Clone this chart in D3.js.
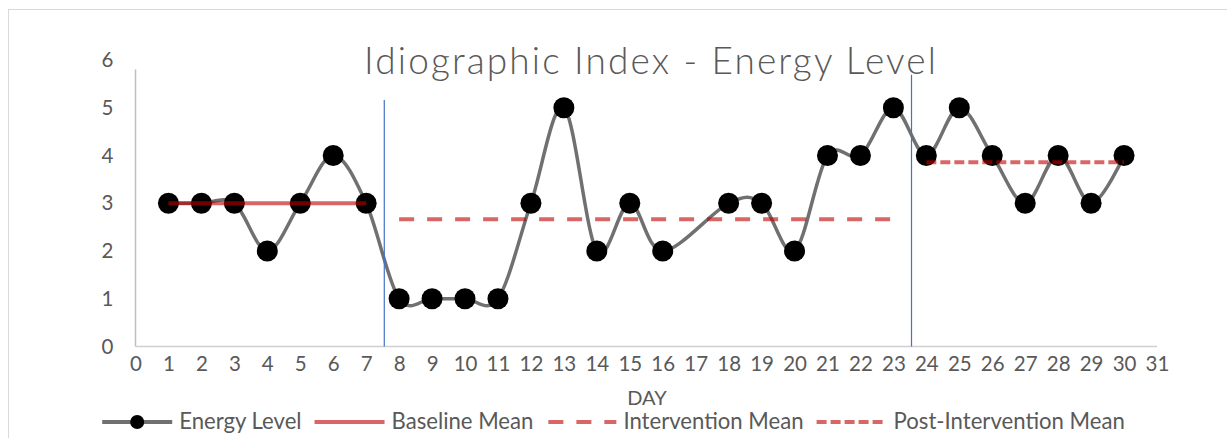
<!DOCTYPE html>
<html><head><meta charset="utf-8">
<script src="https://cdn.jsdelivr.net/npm/d3@7"></script>
<style>
body{margin:0;background:#fff}
svg{display:block}
text{font-family:Lato,"Open Sans",sans-serif;fill:#595959}
</style>
</head><body>
<svg id="c" width="1227" height="438"></svg>
<script>
// ---- data ----
const days   = [1,2,3,4,5,6,7,8,9,10,11,12,13,14,15,16,18,19,20,21,22,23,24,25,26,27,28,29,30];
const energy = [3,3,3,2,3,4,3,1,1,1,1,3,5,2,3,2,3,3,2,4,4,5,4,5,4,3,4,3,4];
const baselineDays = [1,7];   const baselineMean = [3,3];
const interventionDays = [8,23]; const interventionMean = [2.667,2.667];
const postDays = [24,30];     const postMean = [3.857,3.857];
const phaseDays = [7.55,23.55]; const phaseTops = [5.16,5.69];
const xTicks = d3.range(0,32);
const yTicks = [0,1,2,3,4,5,6];
const legendLabels = ["Energy Level","Baseline Mean","Intervention Mean","Post-Intervention Mean"];
const chartTitle = "Idiographic Index - Energy Level";
const xTitle = "DAY";

// ---- setup ----
const svg = d3.select("#c");
const x = d3.scaleLinear().domain([0,31]).range([135.5,1157]);
const y = d3.scaleLinear().domain([0,6]).range([346.5,60]);
const meanColor = "rgba(192,0,0,0.6)";
const lineColor = "#707070";

// outer border
svg.append("rect").attr("x",8.5).attr("y",9.5).attr("width",1300).attr("height",600)
  .attr("fill","none").attr("stroke","#d9d9d9").attr("stroke-width",1);

// axes lines
svg.append("line").attr("x1",x(0)).attr("x2",x(0)).attr("y1",y(0)).attr("y2",y(5.8))
  .attr("stroke","#bfbfbf").attr("stroke-width",1.5);
svg.append("line").attr("x1",x(0)).attr("x2",x(31)).attr("y1",y(0)).attr("y2",y(0))
  .attr("stroke","#d0d0d0").attr("stroke-width",1.5);

// y axis labels
const yAx = svg.append("g").attr("transform",`translate(${x(0)-22},0)`)
  .call(d3.axisLeft(y).tickValues(yTicks).tickSize(0).tickPadding(0).tickFormat(d3.format("d")));
yAx.select(".domain").remove();
yAx.selectAll("text").style("font-size","20.5px").attr("fill","#595959").style("font-family","Lato,'Open Sans',sans-serif");

// x axis labels
const xAx = svg.append("g").attr("transform",`translate(0,${y(0)})`)
  .call(d3.axisBottom(x).tickValues(xTicks).tickSize(0).tickPadding(24).tickFormat(d3.format("d")));
xAx.select(".domain").remove();
xAx.selectAll("text").style("font-size","20.5px").attr("fill","#595959").attr("dy","0").style("font-family","Lato,'Open Sans',sans-serif");

svg.append("text").attr("x",647).attr("y",405).attr("text-anchor","middle")
  .style("font-size","20px").text(xTitle);

// title: light weight, letter-spaced to span the reference width
const tt = svg.append("text").attr("x",650).attr("y",74).attr("text-anchor","middle")
  .style("font-size","37px").style("font-weight","300").text(chartTitle);
const tw = tt.node().getComputedTextLength();
const ls = Math.max(0,(574 - tw)/(chartTitle.length));
tt.style("letter-spacing", ls + "px").attr("x", 650 + ls/2);

// energy line (smoothed)
const pts = days.map((d,i)=>[d,energy[i]]);
const line = d3.line().x(d=>x(d[0])).y(d=>y(d[1])).curve(d3.curveCardinal.tension(0));
svg.append("path").datum(pts).attr("d",line).attr("fill","none")
  .attr("stroke",lineColor).attr("stroke-width",3.5).attr("stroke-linejoin","round");
svg.append("g").selectAll("circle").data(pts).join("circle")
  .attr("cx",d=>x(d[0])).attr("cy",d=>y(d[1])).attr("r",10.5).attr("fill","#000");

// means
const seg = d3.line().x(d=>x(d[0])).y(d=>y(d[1]));
function meanLine(ds, vs, dash){
  const p = svg.append("path").datum(ds.map((d,i)=>[d,vs[i]])).attr("d",seg)
    .attr("fill","none").attr("stroke",meanColor).attr("stroke-width",4);
  if(dash) p.attr("stroke-dasharray",dash);
}
meanLine(baselineDays, baselineMean, null);
meanLine(interventionDays, interventionMean, "15,13");
meanLine(postDays, postMean, "10,4");

// phase lines
svg.append("g").selectAll("line").data(phaseDays).join("line")
  .attr("x1",d=>x(d)).attr("x2",d=>x(d)).attr("y1",y(0)).attr("y2",(d,i)=>y(phaseTops[i]))
  .attr("stroke","#4472c4").attr("stroke-width",1.2);

// legend
const lgSize = (function(){
  const t = svg.append("text").style("font-size","20px");
  let tot=0; legendLabels.forEach(l=>{t.text(l); tot+=t.node().getComputedTextLength();});
  t.remove(); return 20*676/tot;
})();
const lg = svg.append("g");
let cx = 0;
legendLabels.forEach((l,i)=>{
  const g = lg.append("g").attr("transform",`translate(${cx},0)`);
  const ln = g.append("line").attr("x1",0).attr("x2",70).attr("y1",0).attr("y2",0).attr("stroke-width",4);
  if(i===0){ ln.attr("stroke",lineColor); g.append("circle").attr("cx",35).attr("cy",0).attr("r",7).attr("fill","#000"); }
  else { ln.attr("stroke",meanColor); }
  if(i===2) ln.attr("stroke-dasharray","15,13").attr("stroke-dashoffset",-2);
  if(i===3) ln.attr("stroke-dasharray","10,4");
  const t = g.append("text").attr("x",77).attr("y",7).style("font-size",lgSize+"px").text(l);
  cx += 77 + t.node().getComputedTextLength() + 13;
});
const totalW = cx - 13;
lg.attr("transform",`translate(${613.5-totalW/2},422)`);
</script>
</body></html>
